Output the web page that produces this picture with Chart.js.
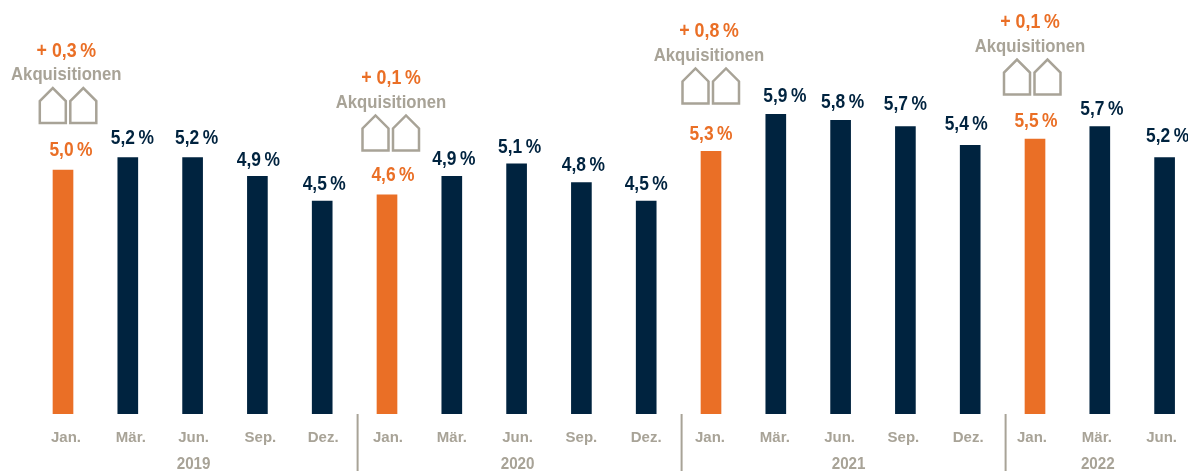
<!DOCTYPE html>
<html><head><meta charset="utf-8">
<script src="https://cdn.jsdelivr.net/npm/chart.js@4"></script>
<style>html,body{margin:0;padding:0;background:#fff;overflow:hidden;width:1188px;height:471px}
#w{position:relative;width:1197px;height:471px}</style></head>
<body><div id="w"><canvas id="c" width="1197" height="471"></canvas></div>
<script>
const categories=["Jan.","Mär.","Jun.","Sep.","Dez.","Jan.","Mär.","Jun.","Sep.","Dez.","Jan.","Mär.","Jun.","Sep.","Dez.","Jan.","Mär.","Jun."];
const values=[5.0,5.2,5.2,4.9,4.5,4.6,4.9,5.1,4.8,4.5,5.3,5.9,5.8,5.7,5.4,5.5,5.7,5.2];
const acquisitionIndex=[0,5,10,15];
const acquisitionLabels=["+ 0,3\u2009%","+ 0,1\u2009%","+ 0,8\u2009%","+ 0,1\u2009%"];
const acquisitionTitle="Akquisitionen";
const years=["2019","2020","2021","2022"];
const yearAnchorIndex=[2,7,12,16];
const yearShift=[1,1,8,-2];
const separatorsAfter=[4,9,14];
// hand-placement of the labels in the original artwork
const labelDx=[8,4.5,4,1,2,6,2,3,2,0,0,9,2,0,-4,1,2,3];
const labelDy=[-20,-19,-19,-16,-17,-19,-17,-16,-17,-17,-17,-18,-18,-22,-21,-18,-17,-21];
const tickDx=[3,3,1,3,1,1,0,1,0,0,-1,-1,-1,-2,-2,-3,-3,-3];
const annDx=[3.3,4,-2,-5];
const annDy=[0,2.5,-1,2.5];
const houseDx=[0,-2,0,0.5];
const ORANGE="#EA6F26",NAVY="#00233F",GREY="#A8A397";
const FONT='"Liberation Sans",Arial,sans-serif';
const colors=values.map((_,i)=>acquisitionIndex.includes(i)?ORANGE:NAVY);
const pct=v=>v.toFixed(1).replace(".",",")+"\u2009%";
function squeezed(ctx,t,x,y,sx){ctx.save();ctx.translate(x,y);ctx.scale(sx,1);ctx.fillText(t,0,0);ctx.restore();}
const extras={id:"extras",
 beforeDraw(ch){ch.scales.x.getLabelItems().forEach((it,i)=>{it.options.translation[0]+=tickDx[i];});},
 afterDatasetsDraw(ch){
 const {ctx,scales:{x,y}}=ch;ctx.save();ctx.textAlign="center";ctx.textBaseline="middle";
 values.forEach((v,i)=>{ctx.fillStyle=colors[i];ctx.font='bold 20px '+FONT;
   squeezed(ctx,pct(v),x.getPixelForValue(i)+labelDx[i],y.getPixelForValue(v)+labelDy[i],.87);});
 acquisitionIndex.forEach((idx,k)=>{
   const cx=x.getPixelForValue(idx)+annDx[k],top=y.getPixelForValue(values[idx])+annDy[k];
   ctx.fillStyle=ORANGE;ctx.font='bold 20px '+FONT;squeezed(ctx,acquisitionLabels[k],cx,top-119,.89);
   ctx.fillStyle=GREY;ctx.font='bold 19px '+FONT;squeezed(ctx,acquisitionTitle,cx,top-95,.88);
   ctx.strokeStyle=GREY;ctx.lineWidth=2.5;ctx.lineJoin="miter";
   [-26.5,4].forEach(dx=>{const l=cx+dx+houseDx[k],b=top-47,w=26;
     ctx.beginPath();ctx.moveTo(l,b);ctx.lineTo(l,b-22);ctx.lineTo(l+w/2,b-35);ctx.lineTo(l+w,b-22);ctx.lineTo(l+w,b);ctx.closePath();ctx.stroke();});
 });
 ctx.strokeStyle=GREY;ctx.lineWidth=2;
 separatorsAfter.forEach(i=>{const p=(x.getPixelForValue(i)+x.getPixelForValue(i+1))/2+3;
   ctx.beginPath();ctx.moveTo(p,414);ctx.lineTo(p,471);ctx.stroke();});
 ctx.fillStyle=GREY;ctx.font='bold 16px '+FONT;
 years.forEach((t,k)=>squeezed(ctx,t,x.getPixelForValue(yearAnchorIndex[k])+yearShift[k],465,.95));
 ctx.restore();}};
new Chart(document.getElementById("c"),{type:"bar",
 data:{labels:categories,datasets:[{data:values,backgroundColor:colors,barThickness:20,borderWidth:0}]},
 options:{responsive:false,animation:false,
  layout:{padding:{left:30.6,right:0,top:0,bottom:0}},
  plugins:{legend:{display:false},tooltip:{enabled:false}},
  scales:{
   x:{grid:{display:false},border:{display:false},afterFit(s){s.height=57;},
      ticks:{color:GREY,font:{family:FONT,size:15,weight:"bold"},maxRotation:0,autoSkip:false,padding:7}},
   y:{display:false,min:1.07,max:7.74}}},
 plugins:[extras]});
</script></body></html>
